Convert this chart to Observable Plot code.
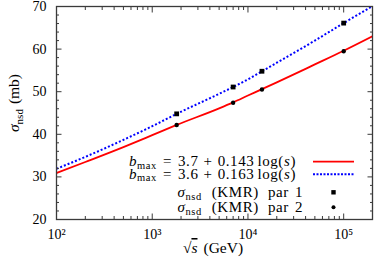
<!DOCTYPE html>
<html><head><meta charset="utf-8">
<script src="https://cdn.jsdelivr.net/npm/d3@7"></script>
<script src="https://cdn.jsdelivr.net/npm/@observablehq/plot@0.6"></script>
<style>
html,body{margin:0;padding:0;background:#fff;}
</style></head><body><div id="chart"></div>
<script>
// ---- data ----
const lineEnergies = [100, 200, 500, 1000, 1800, 5000, 7000, 10000, 14000, 20000, 50000, 100000, 200000];
const redValues    = [30.9, 33.5, 37.0, 39.8, 42.2, 46.1, 47.5, 49.1, 50.6, 52.2, 56.4, 59.6, 63.0];
const blueValues   = [31.9, 34.7, 38.7, 41.9, 44.8, 49.5, 51.1, 52.9, 54.8, 56.8, 62.0, 66.1, 70.1];
const kmrEnergies  = [1800, 7000, 14000, 100000];
const kmrPar1      = [44.8, 51.1, 54.8, 66.1];
const kmrPar2      = [42.2, 47.4, 50.5, 59.5];
const xMajorTicks  = [100, 1000, 10000, 100000];
const xTickLabels  = ["10²", "10³", "10⁴", "10⁵"];
const xMinorTicks  = [200,300,400,500,600,700,800,900,2000,3000,4000,5000,6000,7000,8000,9000,
                      20000,30000,40000,50000,60000,70000,80000,90000,200000];
const yMajorTicks  = [20, 30, 40, 50, 60, 70];
const yMinorTicks  = [22,24,26,28,32,34,36,38,42,44,46,48,52,54,56,58,62,64,66,68];
const bmaxConst    = ["3.7", "3.6"];
const bmaxSlope    = ["0.143", "0.163"];
const kmrLabels    = ["1", "2"];

const FONT = "'Liberation Serif', 'Times New Roman', serif";
const frameColor = "#3a3a3a";

const redRows  = lineEnergies.map((e, i) => ({e, v: redValues[i]}));
const blueRows = lineEnergies.map((e, i) => ({e, v: blueValues[i]}));
const par1Rows = kmrEnergies.map((e, i) => ({e, v: kmrPar1[i]}));
const par2Rows = kmrEnergies.map((e, i) => ({e, v: kmrPar2[i]}));
const blank = () => "";

const plot = Plot.plot({
  width: 374, height: 259,
  marginLeft: 56, marginRight: 2, marginTop: 6, marginBottom: 40,
  style: {fontFamily: FONT, fontSize: "14px", background: "#fff", color: "#000"},
  x: {type: "log", domain: [100, 200000], label: null},
  y: {domain: [20, 70], label: null},
  marks: [
    Plot.line(redRows, {x: "e", y: "v", stroke: "#ff0000", strokeWidth: 1.8, curve: "monotone-x", clip: "frame"}),
    Plot.line(blueRows, {x: "e", y: "v", stroke: "#0000ff", strokeWidth: 2, strokeDasharray: "2 2", strokeLinecap: "butt", curve: "monotone-x", clip: "frame"}),
    Plot.dot(par1Rows, {x: "e", y: "v", symbol: "square", fill: "#000", stroke: "none", r: 2.7}),
    Plot.dot(par2Rows, {x: "e", y: "v", symbol: "circle", fill: "#000", stroke: "none", r: 2.2}),
    // labels
    Plot.axisX({anchor: "bottom", ticks: xMajorTicks, tickSize: 0, tickPadding: 10, tickFormat: d => xTickLabels[xMajorTicks.indexOf(d)], label: null}),
    Plot.axisY({anchor: "left", ticks: yMajorTicks, tickSize: 0, tickPadding: 10, label: null}),
    // inward ticks
    Plot.axisX({anchor: "bottom", ticks: xMajorTicks, tickSize: -5.5, tickFormat: blank, label: null, stroke: frameColor}),
    Plot.axisX({anchor: "bottom", ticks: xMinorTicks, tickSize: -3, tickFormat: blank, label: null, stroke: frameColor}),
    Plot.axisX({anchor: "top", ticks: xMajorTicks, tickSize: -5.5, tickFormat: blank, label: null, stroke: frameColor}),
    Plot.axisX({anchor: "top", ticks: xMinorTicks, tickSize: -3, tickFormat: blank, label: null, stroke: frameColor}),
    Plot.axisY({anchor: "left", ticks: yMajorTicks, tickSize: -5.5, tickFormat: blank, label: null, stroke: frameColor}),
    Plot.axisY({anchor: "left", ticks: yMinorTicks, tickSize: -3, tickFormat: blank, label: null, stroke: frameColor}),
    Plot.axisY({anchor: "right", ticks: yMajorTicks, tickSize: -5.5, tickFormat: blank, label: null, stroke: frameColor}),
    Plot.axisY({anchor: "right", ticks: yMinorTicks, tickSize: -3, tickFormat: blank, label: null, stroke: frameColor}),
    Plot.frame({stroke: frameColor, strokeWidth: 1.3})
  ]
});
document.getElementById("chart").appendChild(plot);

// ---- rich text helpers (titles and legend) ----
const svg = d3.select(plot);
function rich(sel, parts) {
  parts.forEach(p => {
    const t = sel.append("tspan").text(p.t);
    if (p.it) t.attr("font-style", "italic");
    if (p.size) t.attr("font-size", p.size);
    if (p.dy) t.attr("dy", p.dy);
    if (p.dx) t.attr("dx", p.dx);
    if (p.over) t.style("text-decoration", "overline");
  });
}

// y title
const yt = svg.append("text").style("font-family", FONT).attr("font-size", 15.5)
  .attr("text-anchor", "middle").attr("transform", "translate(19,103) rotate(-90)");
rich(yt, [{t: "σ", it: true}, {t: "nsd", size: 11, dy: 3.5}, {t: "(mb)", dy: -3.5, dx: 5}]);

// x title
const xt = svg.append("text").style("font-family", FONT).attr("font-size", 15.5)
  .attr("text-anchor", "middle").attr("x", 213).attr("y", 253);
rich(xt, [{t: "√"}, {t: "s", it: true, over: true}, {t: "(GeV)", dx: 6}]);

// legend
const lg = svg.append("g").style("font-family", FONT).attr("font-size", 15).style("letter-spacing", "0.6px");
const rowsY = [161.7, 174.3, 192.3, 207.3];
const textEnd = [296, 296, 303, 303];
for (let i = 0; i < 2; i++) {
  const t = lg.append("text").attr("text-anchor", "end").attr("x", textEnd[i]).attr("y", rowsY[i] + 4.3);
  rich(t, [{t: "b", it: true}, {t: "max", size: 10.5, dy: 2.5}, {t: "=", dy: -2.5, dx: 6}, {t: bmaxConst[i], dx: 6},
           {t: "+", dx: 5}, {t: bmaxSlope[i], dx: 5}, {t: "log(", dx: 3}, {t: "s", it: true}, {t: ")"}]);
}
for (let i = 0; i < 2; i++) {
  const t = lg.append("text").attr("text-anchor", "end").attr("x", textEnd[i + 2]).attr("y", rowsY[i + 2] + 4.3);
  rich(t, [{t: "σ", it: true}, {t: "nsd", size: 10.5, dy: 3}, {t: "(KMR)", dy: -3, dx: 10},
           {t: "par", dx: 9}, {t: kmrLabels[i], dx: 6}]);
}
lg.append("line").attr("x1", 313).attr("x2", 354).attr("y1", rowsY[0]).attr("y2", rowsY[0])
  .attr("stroke", "#ff0000").attr("stroke-width", 1.8);
lg.append("line").attr("x1", 313).attr("x2", 354).attr("y1", rowsY[1]).attr("y2", rowsY[1])
  .attr("stroke", "#0000ff").attr("stroke-width", 2).attr("stroke-dasharray", "2 1.5");
lg.append("rect").attr("x", 333.5 - 2.2).attr("y", rowsY[2] - 2.2).attr("width", 4.4).attr("height", 4.4).attr("fill", "#000");
lg.append("circle").attr("cx", 333.5).attr("cy", rowsY[3]).attr("r", 2).attr("fill", "#000");
</script>
</body></html>
